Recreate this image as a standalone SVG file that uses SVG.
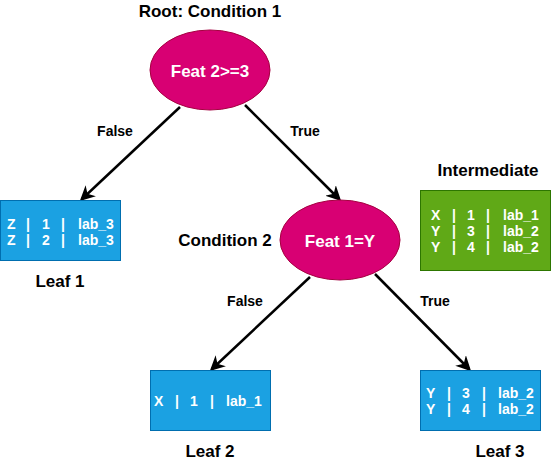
<svg xmlns="http://www.w3.org/2000/svg" width="551" height="461" viewBox="0 0 551 461">
<style>
.ell{fill:#d80073;stroke:#a50040;stroke-width:1}
.blue{fill:#1ba1e2;stroke:#006eaf;stroke-width:1}
.green{fill:#60a917;stroke:#2d7600;stroke-width:1}
.t{font-family:"Liberation Sans",Arial,sans-serif;font-weight:bold;fill:#000}
.title{font-size:17px;text-anchor:middle}
.el{font-size:17px;fill:#fff;text-anchor:middle}
.lbl{font-size:14px;text-anchor:middle}
.cell{font-family:"Liberation Sans",Arial,sans-serif;font-weight:bold;font-size:14px;fill:#fff}
.edge{stroke:#000;stroke-width:2.5;fill:none;marker-end:url(#ah)}
</style>
<defs>
<marker id="ah" viewBox="0 0 10 10" refX="8" refY="5" markerWidth="6" markerHeight="6" orient="auto" markerUnits="strokeWidth">
<path d="M0,0 L10,5 L0,10 L3,5 Z" fill="#000"/>
</marker>
</defs>
<rect width="551" height="461" fill="#fff"/>
<g id="edges">
<line class="edge" x1="180" y1="107" x2="82" y2="199"/>
<line class="edge" x1="245" y1="105" x2="339" y2="199"/>
<line class="edge" x1="310" y1="277" x2="212" y2="369"/>
<line class="edge" x1="375" y1="274" x2="469" y2="369"/>
<text class="t lbl" x="115" y="136">False</text>
<text class="t lbl" x="305" y="136">True</text>
<text class="t lbl" x="245" y="306">False</text>
<text class="t lbl" x="435" y="306">True</text>
</g>
<g id="root">
<text class="t title" x="210" y="17">Root: Condition 1</text>
<ellipse class="ell" cx="210" cy="70" rx="60" ry="40"/>
<text class="t el" x="210" y="77">Feat 2&gt;=3</text>
</g>
<g id="cond2">
<text class="t title" x="225" y="246">Condition 2</text>
<ellipse class="ell" cx="340" cy="240" rx="60" ry="40"/>
<text class="t el" x="340" y="247">Feat 1=Y</text>
</g>
<g id="leaf1">
<rect class="blue" x="0.5" y="200.5" width="120" height="60"/>
<text class="cell" y="229"><tspan x="7">Z</tspan><tspan x="26">|</tspan><tspan x="42">1</tspan><tspan x="61">|</tspan><tspan x="78">lab_3</tspan></text>
<text class="cell" y="245"><tspan x="7">Z</tspan><tspan x="26">|</tspan><tspan x="42">2</tspan><tspan x="61">|</tspan><tspan x="78">lab_3</tspan></text>
<text class="t title" x="60" y="287">Leaf 1</text>
</g>
<g id="intermediate">
<text class="t title" x="488" y="176">Intermediate</text>
<rect class="green" x="420.5" y="190.5" width="130" height="80"/>
<text class="cell" y="220"><tspan x="431">X</tspan><tspan x="452">|</tspan><tspan x="467">1</tspan><tspan x="486">|</tspan><tspan x="503">lab_1</tspan></text>
<text class="cell" y="236"><tspan x="431">Y</tspan><tspan x="452">|</tspan><tspan x="467">3</tspan><tspan x="486">|</tspan><tspan x="503">lab_2</tspan></text>
<text class="cell" y="252"><tspan x="431">Y</tspan><tspan x="452">|</tspan><tspan x="467">4</tspan><tspan x="486">|</tspan><tspan x="503">lab_2</tspan></text>
</g>
<g id="leaf2">
<rect class="blue" x="150.5" y="370.5" width="120" height="60"/>
<text class="cell" y="406"><tspan x="154">X</tspan><tspan x="175">|</tspan><tspan x="190">1</tspan><tspan x="210">|</tspan><tspan x="226">lab_1</tspan></text>
<text class="t title" x="210" y="457">Leaf 2</text>
</g>
<g id="leaf3">
<rect class="blue" x="420.5" y="370.5" width="120" height="60"/>
<text class="cell" y="398"><tspan x="426">Y</tspan><tspan x="447">|</tspan><tspan x="462">3</tspan><tspan x="482">|</tspan><tspan x="498">lab_2</tspan></text>
<text class="cell" y="414"><tspan x="426">Y</tspan><tspan x="447">|</tspan><tspan x="462">4</tspan><tspan x="482">|</tspan><tspan x="498">lab_2</tspan></text>
<text class="t title" x="500" y="457">Leaf 3</text>
</g>
</svg>
